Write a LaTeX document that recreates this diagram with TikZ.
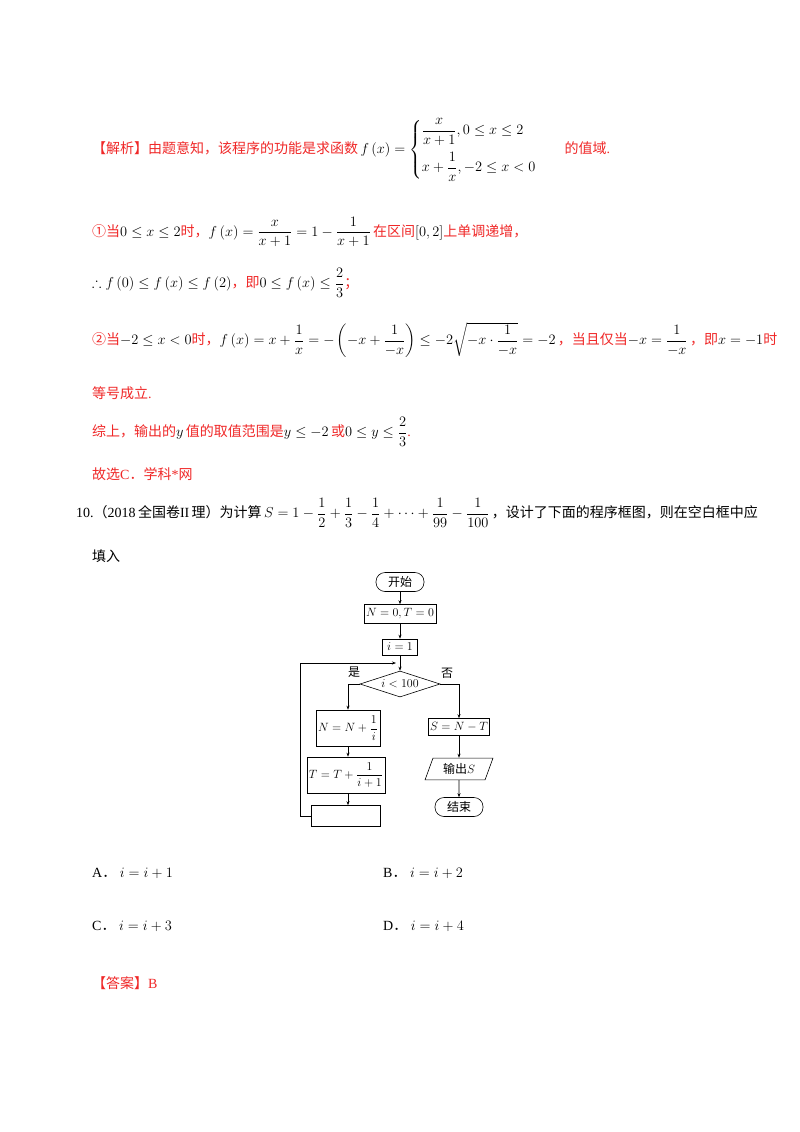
\documentclass[tikz,border=0pt]{standalone}
\usepackage{amsmath,amssymb}
\usepackage{fontspec}
\setmainfont{Liberation Serif}
\newfontfamily\cjk{Noto Sans CJK SC}
\usepackage{tikz}
\usetikzlibrary{positioning,shapes.geometric,arrows.meta}
\definecolor{ansred}{HTML}{F02828}
\newcommand{\zh}[1]{{\cjk #1}}

\begin{document}
\begin{tikzpicture}[x=1pt,y=-1pt,
    txt/.style={anchor=west,inner sep=0pt,font=\fontsize{14}{17}\selectfont},
    red/.style={txt,text=ansred},
    box/.style={draw,line width=0.6pt,minimum height=19pt,inner sep=2pt,font=\fontsize{12}{14}\selectfont},
    term/.style={box,rounded corners=9pt,minimum width=48pt},
    arr/.style={-{Stealth[length=4pt,width=3pt]},line width=0.6pt}]
  \useasboundingbox[fill=white] (0,0) rectangle (800,1132);

  % Analysis
  \node[red] (l1) at (92,150) {\zh{【解析】由题意知，该程序的功能是求函数}\,\textcolor{black}{$f\left(x\right)=\begin{cases}\dfrac{x}{x+1},0\le x\le 2\\[12pt] x+\dfrac{1}{x},-2\le x<0\end{cases}$}\quad\zh{的值域}.};
  \node[red] (l2) at (92,232) {\zh{①当}\textcolor{black}{$0\le x\le 2$}\zh{时，}\textcolor{black}{$f\left(x\right)=\dfrac{x}{x+1}=1-\dfrac{1}{x+1}$}\,\zh{在区间}\textcolor{black}{$\left[0,2\right]$}\zh{上单调递增，}};
  \node[red] (l3) at (92,283) {\textcolor{black}{$\therefore f\left(0\right)\le f\left(x\right)\le f\left(2\right)$}\zh{，即}\textcolor{black}{$0\le f\left(x\right)\le\dfrac{2}{3}$}\zh{；}};
  \node[red] (l4) at (92,340) {\zh{②当}\textcolor{black}{$-2\le x<0$}\zh{时，}\textcolor{black}{$f\left(x\right)=x+\dfrac{1}{x}=-\left(-x+\dfrac{1}{-x}\right)\le-2\sqrt{-x\cdot\dfrac{1}{-x}}=-2$}\,\zh{，当且仅当}\textcolor{black}{$-x=\dfrac{1}{-x}$}\,\zh{，即}\textcolor{black}{$x=-1$}\zh{时}};
  \node[red] (l5) at (92,393) {\zh{等号成立}.};
  \node[red] (l6) at (92,432) {\zh{综上，输出的}\textcolor{black}{$y$}\,\zh{值的取值范围是}\textcolor{black}{$y\le-2$}\,\zh{或}\textcolor{black}{$0\le y\le\dfrac{2}{3}$}.};
  \node[red] (l7) at (92,474) {\zh{故选}C\zh{．学科}*\zh{网}};

  % Question
  \node[txt] (q1) at (76,513) {10.\zh{（}2018\,\zh{全国卷}II\,\zh{理）为计算}\,$S=1-\dfrac12+\dfrac13-\dfrac14+\cdots+\dfrac1{99}-\dfrac1{100}$\,\zh{，设计了下面的程序框图，则在空白框中应}};
  \node[txt] (q2) at (92,556) {\zh{填入}};

  % Flowchart
  \node[term] (start) at (400,582) {\zh{开始}};
  \node[box,minimum width=72pt] (init) at (400,614) {$N=0,T=0$};
  \node[box,minimum width=35pt,minimum height=16pt] (ione) at (400,647) {$i=1$};
  \node[draw,diamond,aspect=3,line width=0.6pt,inner sep=1pt,minimum width=80pt,minimum height=26pt,font=\fontsize{12}{14}\selectfont] (cond) at (400,684) {$i<100$};
  \node[box,minimum width=60pt,minimum height=36pt] (addn) at (348,728) {$N=N+\dfrac1i$};
  \node[box,minimum width=69pt,minimum height=36pt] (addt) at (346,775) {$T=T+\dfrac{1}{i+1}$};
  \node[box,minimum width=69pt,minimum height=21pt] (blank) at (346,816) {};
  \node[box,minimum width=58pt,minimum height=17pt] (diff) at (459,727) {$S=N-T$};
  \node[draw,trapezium,trapezium left angle=70,trapezium right angle=110,line width=0.6pt,minimum width=68pt,minimum height=17pt,inner sep=2pt,font=\fontsize{12}{14}\selectfont] (out) at (459,769) {\zh{输出}$S$};
  \node[term] (stop) at (459,807) {\zh{结束}};
  \coordinate (join) at (400,663);
  \node[font=\fontsize{12}{14}\selectfont\cjk] (yes) at (354,672) {是};
  \node[font=\fontsize{12}{14}\selectfont\cjk] (no) at (447,673) {否};

  \draw[arr] (start) -- (init);
  \draw[arr] (init) -- (ione);
  \draw[arr] (ione) -- (cond);
  \draw[arr] (cond.west) -| (addn);
  \draw[arr] (cond.east) -| (diff);
  \draw[arr] (addn) -- (addn |- addt.north);
  \draw[arr] (addn |- addt.south) -- (addn |- blank.north);
  \draw[arr] (diff) -- (out);
  \draw[arr] (out) -- (stop);
  \draw[arr] (blank.west) -- ++(-11,0) |- ([xshift=-4pt]join);

  % Options
  \node[txt] (oa) at (92,873) {A\zh{．}\ $i=i+1$};
  \node[txt] (ob) at (383,873) {B\zh{．}\ $i=i+2$};
  \node[txt] (oc) at (92,926) {C\zh{．}\ $i=i+3$};
  \node[txt] (od) at (383,926) {D\zh{．}\ $i=i+4$};
  \node[red] (ans) at (92,983) {\zh{【答案】}B};
\end{tikzpicture}
\end{document}
